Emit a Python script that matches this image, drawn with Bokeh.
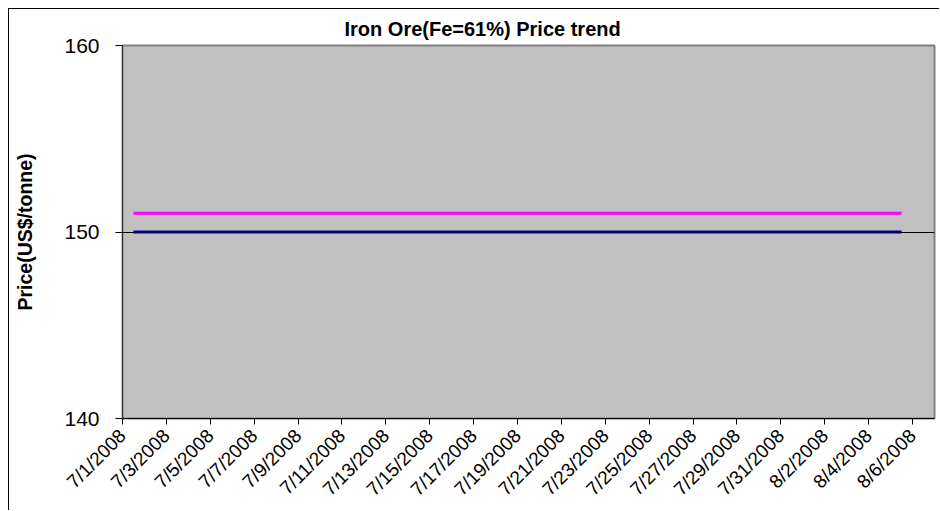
import math
import pandas as pd
from bokeh.plotting import figure
from bokeh.models import Range1d, FixedTicker, ColumnDataSource
from bokeh.embed import file_html
from bokeh.resources import INLINE

# ---- data ----
dates = [
    "2008-07-01", "2008-07-02", "2008-07-03", "2008-07-04", "2008-07-05", "2008-07-06",
    "2008-07-07", "2008-07-08", "2008-07-09", "2008-07-10", "2008-07-11", "2008-07-12",
    "2008-07-13", "2008-07-14", "2008-07-15", "2008-07-16", "2008-07-17", "2008-07-18",
    "2008-07-19", "2008-07-20", "2008-07-21", "2008-07-22", "2008-07-23", "2008-07-24",
    "2008-07-25", "2008-07-26", "2008-07-27", "2008-07-28", "2008-07-29", "2008-07-30",
    "2008-07-31", "2008-08-01", "2008-08-02", "2008-08-03", "2008-08-04", "2008-08-05",
]
series_upper = [151, 151, 151, 151, 151, 151, 151, 151, 151, 151, 151, 151,
                151, 151, 151, 151, 151, 151, 151, 151, 151, 151, 151, 151,
                151, 151, 151, 151, 151, 151, 151, 151, 151, 151, 151, 151]
series_lower = [150, 150, 150, 150, 150, 150, 150, 150, 150, 150, 150, 150,
                150, 150, 150, 150, 150, 150, 150, 150, 150, 150, 150, 150,
                150, 150, 150, 150, 150, 150, 150, 150, 150, 150, 150, 150]

tick_dates = ["2008-07-01", "2008-07-03", "2008-07-05", "2008-07-07", "2008-07-09",
              "2008-07-11", "2008-07-13", "2008-07-15", "2008-07-17", "2008-07-19",
              "2008-07-21", "2008-07-23", "2008-07-25", "2008-07-27", "2008-07-29",
              "2008-07-31", "2008-08-02", "2008-08-04", "2008-08-06"]
tick_labels = ["7/1/2008", "7/3/2008", "7/5/2008", "7/7/2008", "7/9/2008",
               "7/11/2008", "7/13/2008", "7/15/2008", "7/17/2008", "7/19/2008",
               "7/21/2008", "7/23/2008", "7/25/2008", "7/27/2008", "7/29/2008",
               "7/31/2008", "8/2/2008", "8/4/2008", "8/6/2008"]
y_ticks = [140, 150, 160]
axis_start = "2008-07-01"
axis_end = "2008-08-07"
chart_title = "Iron Ore(Fe=61%) Price trend"

# ---- build ----
t0 = pd.Timestamp(axis_start)
day = pd.Timedelta(days=1)
x_days = [float((pd.Timestamp(d) - t0) / day) + 0.5 for d in dates]
tick_pos = [float((pd.Timestamp(d) - t0) / day) for d in tick_dates]
x_end = float((pd.Timestamp(axis_end) - t0) / day)

src = ColumnDataSource(dict(x=x_days, upper=series_upper, lower=series_lower))

FONT = "Liberation Sans"

p = figure(width=931, height=502, output_backend="svg", toolbar_location=None,
           x_range=Range1d(0, x_end), y_range=Range1d(140, 160),
           min_border_left=113, min_border_right=6, min_border_top=36,
           min_border_bottom=93)

p.title.text = chart_title
p.title.text_font = FONT
p.title.text_font_size = "20px"
p.title.text_font_style = "bold"
p.title.align = "left"
p.title.offset = 222
p.title.standoff = 12
p.title.text_color = "black"

p.background_fill_color = "#C0C0C0"
p.border_fill_color = "white"
p.outline_line_color = "#808080"
p.outline_line_width = 2

p.xgrid.visible = False
p.ygrid.ticker = FixedTicker(ticks=[150])
p.ygrid.grid_line_color = "black"
p.ygrid.grid_line_width = 1

ya = p.yaxis[0]
ya.ticker = FixedTicker(ticks=y_ticks)
ya.major_tick_out = 7
ya.major_tick_in = 0
ya.minor_tick_line_color = None
ya.axis_line_color = "#333333"
ya.major_tick_line_color = "black"
ya.major_label_text_font = FONT
ya.major_label_text_font_size = "21px"
ya.major_label_text_color = "black"
ya.major_label_standoff = 16
ya.axis_label = "Price(US$/tonne)"
ya.axis_label_text_font = FONT
ya.axis_label_text_font_size = "19.5px"
ya.axis_label_text_font_style = "bold"
ya.axis_label_text_color = "black"
ya.axis_label_standoff = 25

xa = p.xaxis[0]
xa.ticker = FixedTicker(ticks=tick_pos)
xa.major_label_overrides = {tp: lab for tp, lab in zip(tick_pos, tick_labels)}
xa.major_label_orientation = math.pi / 4
xa.major_tick_out = 6
xa.major_tick_in = 0
xa.minor_tick_line_color = None
xa.axis_line_color = "black"
xa.major_tick_line_color = "black"
xa.major_label_text_font = FONT
xa.major_label_text_font_size = "19px"
xa.major_label_text_color = "black"
xa.major_label_standoff = 8

p.line("x", "upper", source=src, line_color="#FF00FF", line_width=3)
p.line("x", "lower", source=src, line_color="#000080", line_width=3)

p.styles = {"margin-top": "8px", "margin-left": "8px",
            "border-top": "1px solid black", "border-left": "1px solid black"}

open("out.html", "w").write(file_html(p, INLINE))
